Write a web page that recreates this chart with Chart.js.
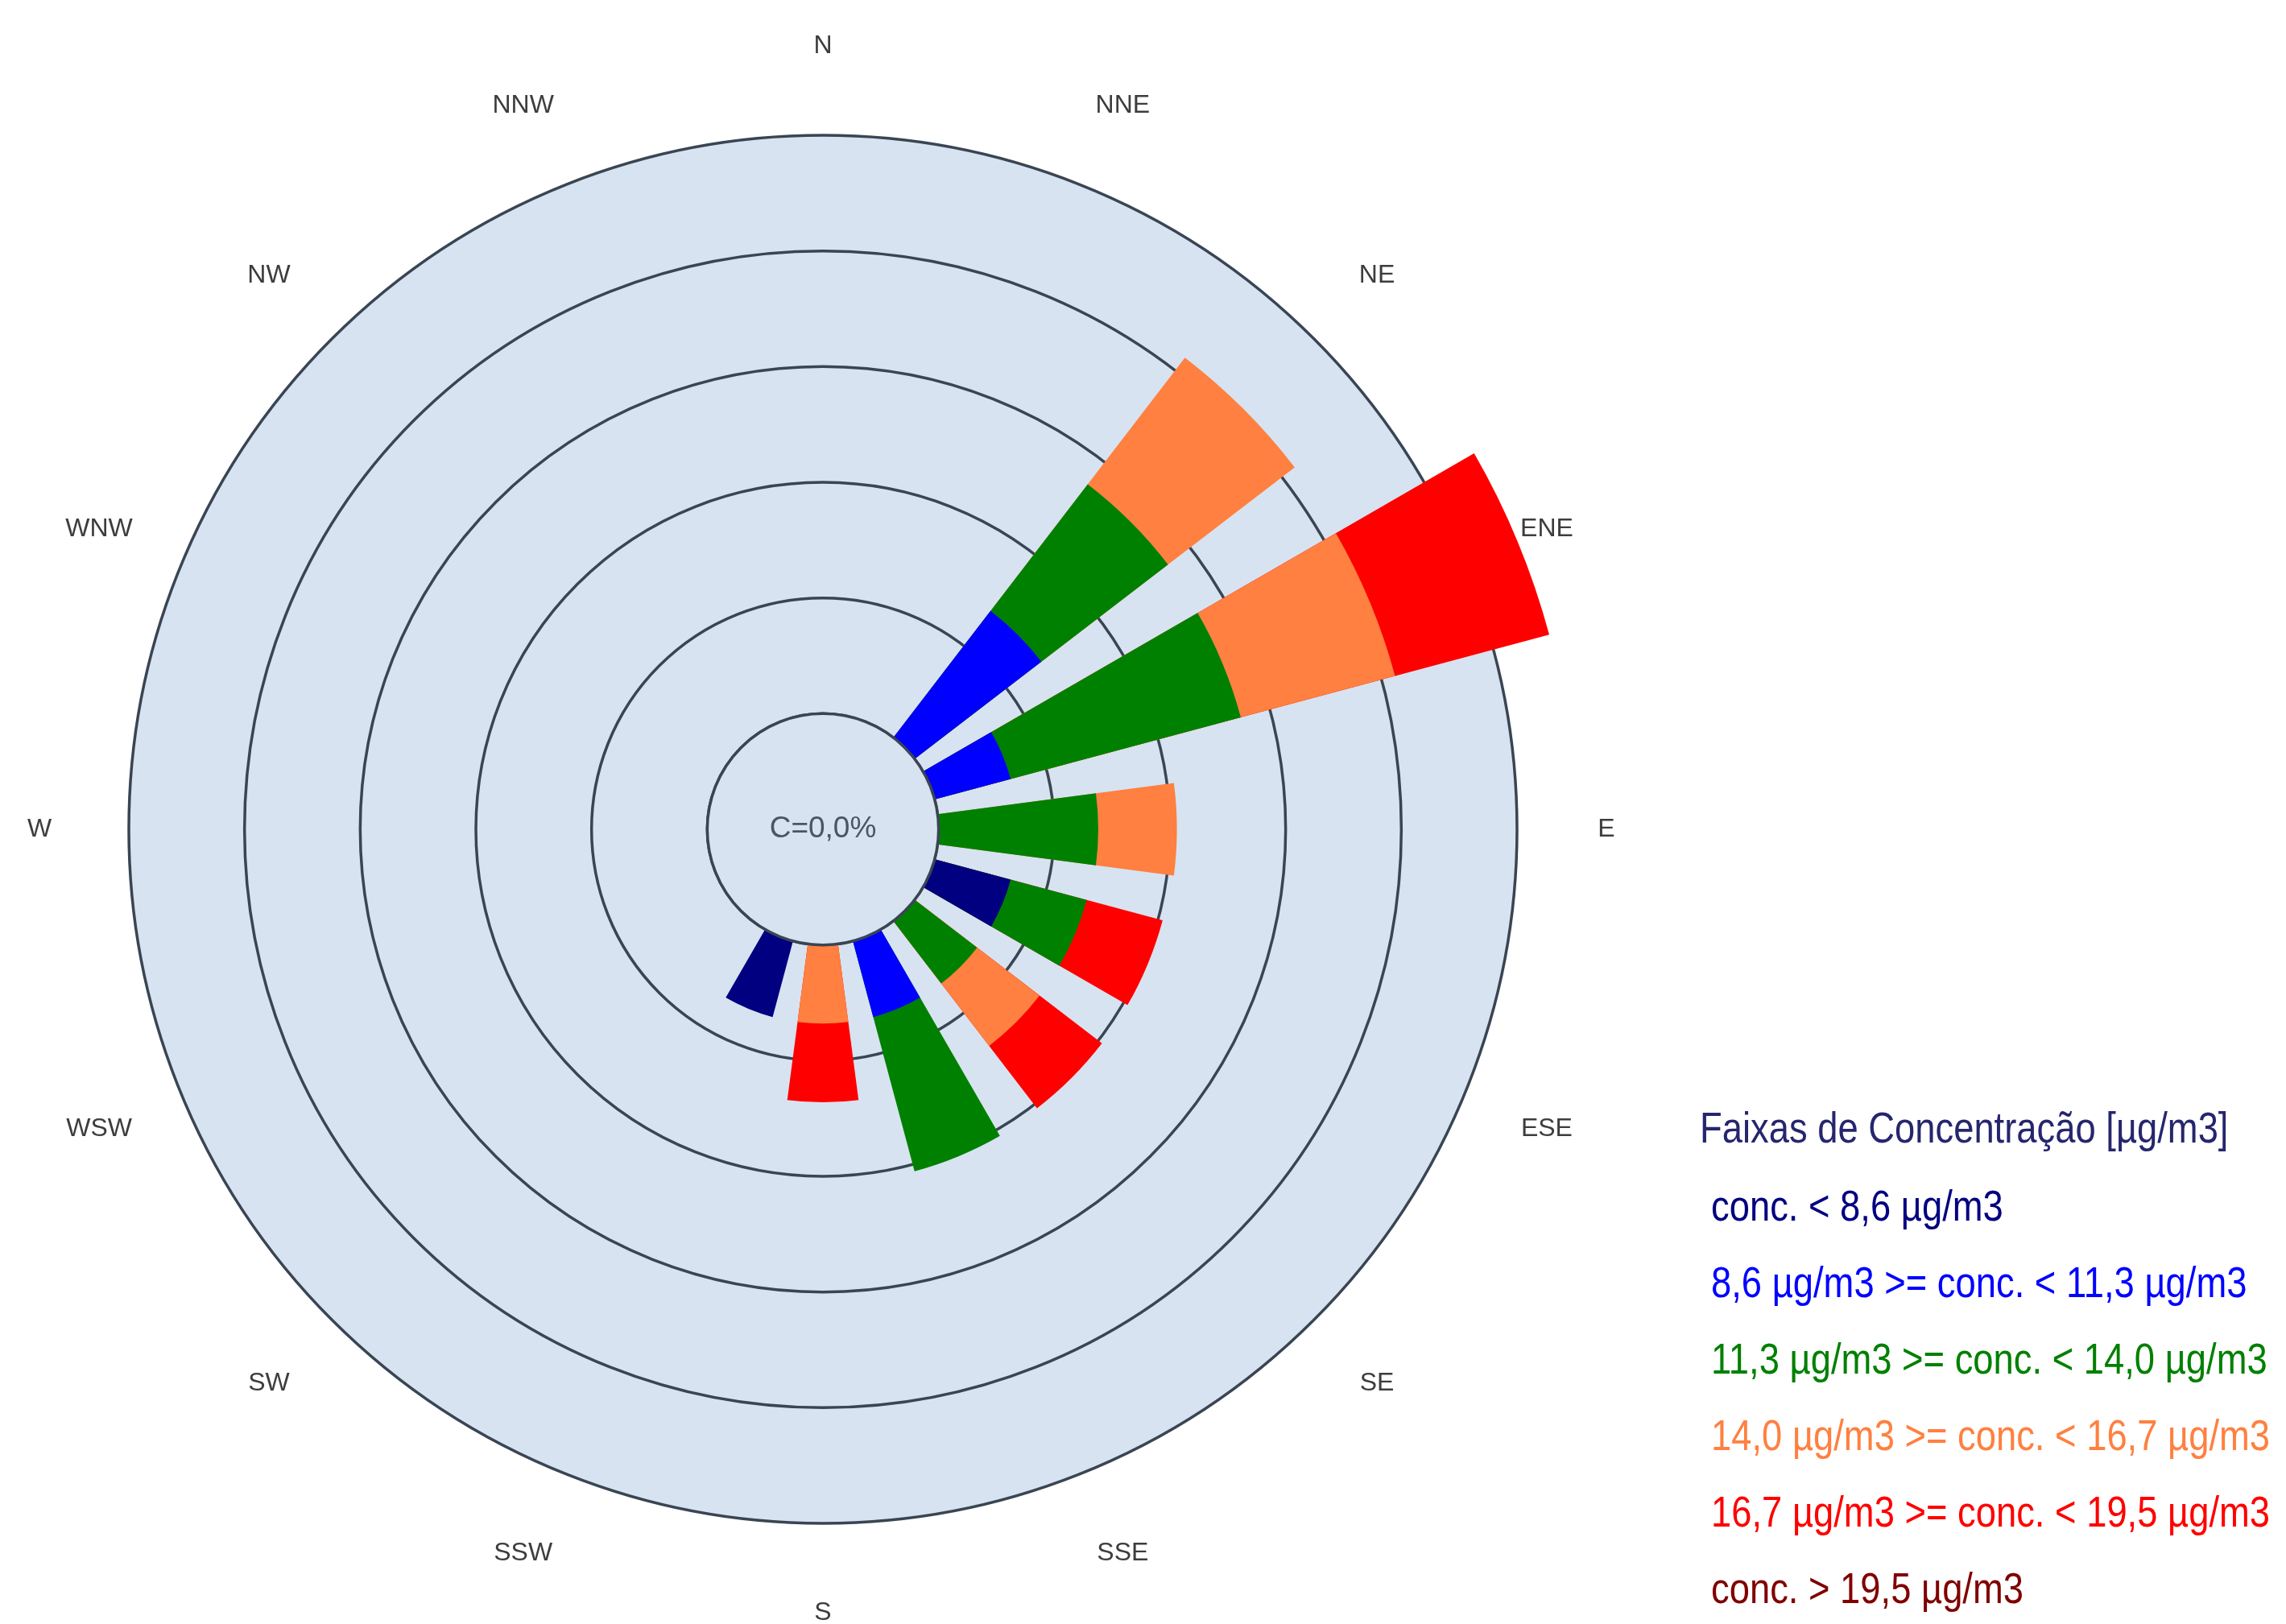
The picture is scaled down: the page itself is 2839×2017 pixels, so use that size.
<!DOCTYPE html>
<html lang="pt-BR">
<head>
<meta charset="utf-8">
<title>Rosa de poluição – Faixas de Concentração</title>
<script src="https://cdn.jsdelivr.net/npm/chart.js@4.4.1/dist/chart.umd.min.js"></script>
<style>
  html, body { margin: 0; padding: 0; background: #ffffff; }
  #wrap { position: relative; width: 2839px; height: 2017px; overflow: hidden; }
  #rose { position: absolute; left: 0; top: 0; }
  #legend {
    position: absolute; left: 2111px; top: 1350px;
    font-family: 'Liberation Sans', Arial, sans-serif;
    font-size: 54px; white-space: nowrap;
  }
  #legend .title { height: 100px; line-height: 100px; }
  #legend .item { height: 95px; line-height: 95px; padding-left: 14px; }
  /* narrow lettering */
  #legend span { display: inline-block; transform: scaleX(0.84); transform-origin: left center; }
</style>
</head>
<body>
<div id="wrap">
  <canvas id="rose" width="2839" height="2017"></canvas>
  <div id="legend"></div>
</div>
<script>
// 16 wind sectors, clockwise from north
const directions = ['N', 'NNE', 'NE', 'ENE', 'E', 'ESE', 'SE', 'SSE',
                    'S', 'SSW', 'SW', 'WSW', 'W', 'WNW', 'NW', 'NNW'];

// Concentration classes
const legendTitle = 'Faixas de Concentração [µg/m3]';
const classLabels = [
  'conc. < 8,6 µg/m3',
  '8,6 µg/m3 >= conc. < 11,3 µg/m3',
  '11,3 µg/m3 >= conc. < 14,0 µg/m3',
  '14,0 µg/m3 >= conc. < 16,7 µg/m3',
  '16,7 µg/m3 >= conc. < 19,5 µg/m3',
  'conc. > 19,5 µg/m3'
];
const classColors = ['#000080', '#0000ff', '#008000', '#ff8040', '#ff0000', '#800000'];

// Frequency of occurrence (%) per sector, one array per class
const freqBelow86  = [0, 0, 0,   0,    0,   3.4, 0,   0,   0,   3.4, 0, 0, 0, 0, 0, 0];
const freq86to113  = [0, 0, 6.9, 3.4,  0,   0,   0,   3.4, 0,   0,   0, 0, 0, 0, 0, 0];
const freq113to140 = [0, 0, 6.9, 10.3, 6.9, 3.4, 3.4, 6.9, 0,   0,   0, 0, 0, 0, 0, 0];
const freq140to167 = [0, 0, 6.9, 6.9,  3.4, 0,   3.4, 0,   3.4, 0,   0, 0, 0, 0, 0, 0];
const freq167to195 = [0, 0, 0,   6.9,  0,   3.4, 3.4, 0,   3.4, 0,   0, 0, 0, 0, 0, 0];
const freqAbove195 = [0, 0, 0,   0,    0,   0,   0,   0,   0,   0,   0, 0, 0, 0, 0, 0];

// Calms (%)
const calmPct = 0.0;

// Radial axis: the calm circle sits at 0 %, rings every 5 %
const ringStep = 5;
const ringMax = 25;

// Sector geometry (degrees): bar wedge plus the gap to the next sector
const barAngle = 15;
const gapAngle = 360 / directions.length - barAngle;

const diskColor = '#d7e3f0';
const ringColor = '#3a4553';

const classSeries = [freqBelow86, freq86to113, freq113to140, freq140to167, freq167to195, freqAbove195];

// Stacking: each class is drawn as a wedge out to the running total, inner classes on top
const cumulative = classSeries.map((_, k) =>
  directions.map((__, d) => classSeries.slice(0, k + 1).reduce((sum, s) => sum + s[d], 0)));

// Every sector is followed by an empty gap element
const sectorLabels = directions.flatMap(d => [d, '']);
const sectorAngles = directions.flatMap(() => [barAngle, gapAngle]);

const datasets = classSeries.map((series, k) => ({
  label: classLabels[k],
  legendColor: classColors[k],
  data: cumulative[k].flatMap(v => [v, 0]),
  backgroundColor: series.flatMap(v => [v > 0 ? classColors[k] : 'rgba(0,0,0,0)', 'rgba(0,0,0,0)']),
  borderWidth: 0,
  angle: sectorAngles
}));

// Compass labels around the rose (drawn under the bars)
const compassLabels = {
  id: 'compassLabels',
  beforeDatasetsDraw(chart) {
    const scale = chart.scales.r;
    const ctx = chart.ctx;
    const dist = scale.drawingArea + 111;
    const half = barAngle / 2 * Math.PI / 180;
    ctx.save();
    ctx.font = '32px "Liberation Sans", Arial, sans-serif';
    ctx.fillStyle = '#3d3d3d';
    ctx.textAlign = 'center';
    ctx.textBaseline = 'middle';
    directions.forEach((d, k) => {
      const p = scale.getPointPosition(2 * k, dist, half);
      ctx.fillText(d, p.x, p.y);
    });
    ctx.restore();
  }
};

// Calm circle with its percentage
const calmCircle = {
  id: 'calmCircle',
  afterDatasetsDraw(chart) {
    const scale = chart.scales.r;
    const ctx = chart.ctx;
    const rad = scale.getDistanceFromCenterForValue(0);
    ctx.save();
    ctx.beginPath();
    ctx.arc(scale.xCenter, scale.yCenter, rad, 0, Math.PI * 2);
    ctx.fillStyle = diskColor;
    ctx.fill();
    ctx.lineWidth = 3.5;
    ctx.strokeStyle = ringColor;
    ctx.stroke();
    ctx.font = '37px "Liberation Sans", Arial, sans-serif';
    ctx.fillStyle = '#4b5662';
    ctx.textAlign = 'center';
    ctx.textBaseline = 'middle';
    ctx.fillText('C=' + calmPct.toFixed(1).replace('.', ',') + '%', scale.xCenter, scale.yCenter);
    ctx.restore();
  }
};

// Legend built from the datasets as HTML text
const htmlLegend = {
  id: 'htmlLegend',
  afterUpdate(chart) {
    const box = document.getElementById('legend');
    box.innerHTML = '';
    const addRow = (cls, text, color) => {
      const row = document.createElement('div');
      row.className = cls;
      const span = document.createElement('span');
      span.textContent = text;
      span.style.color = color;
      row.appendChild(span);
      box.appendChild(row);
    };
    addRow('title', legendTitle, '#26266e');
    chart.data.datasets.forEach(ds => addRow('item', ds.label, ds.legendColor));
  }
};

new Chart(document.getElementById('rose'), {
  type: 'polarArea',
  data: { labels: sectorLabels, datasets },
  options: {
    responsive: false,
    animation: false,
    devicePixelRatio: 1,
    layout: { padding: { left: 160, top: 168, right: 955, bottom: 125 } },
    plugins: {
      legend: { display: false },
      tooltip: { enabled: false }
    },
    scales: {
      r: {
        min: -ringStep,
        max: ringMax,
        startAngle: -barAngle / 2,
        backgroundColor: diskColor,
        ticks: { display: false, stepSize: ringStep },
        grid: { circular: true, color: ringColor, lineWidth: 3.5 },
        angleLines: { display: false },
        pointLabels: { display: false }
      }
    }
  },
  plugins: [compassLabels, calmCircle, htmlLegend]
});
</script>
</body>
</html>
